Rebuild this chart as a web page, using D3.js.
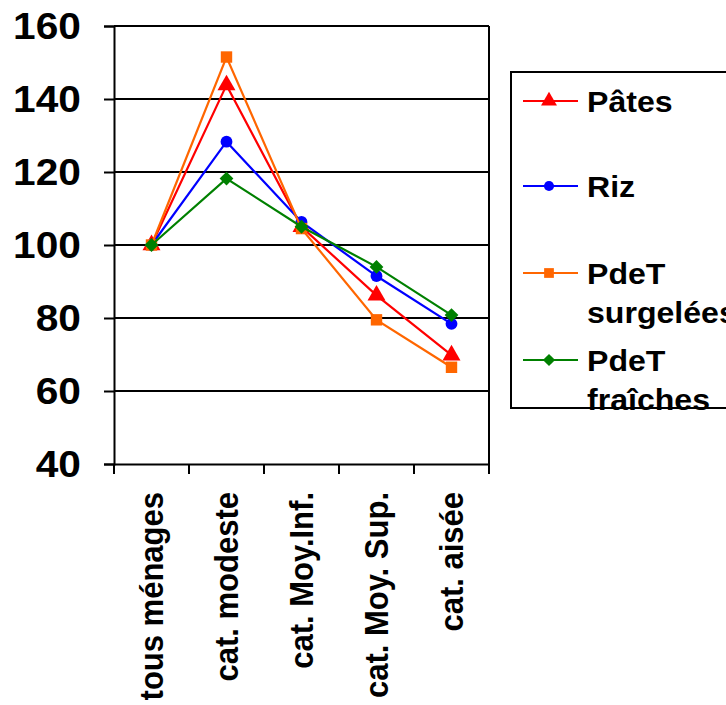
<!DOCTYPE html>
<html><head><meta charset="utf-8">
<script src="https://cdn.jsdelivr.net/npm/d3@7"></script>
<style>body{margin:0;background:#fff}svg{display:block}text{font-family:"Liberation Sans",Arial,sans-serif;font-weight:bold;fill:#000}</style>
</head><body>
<script>
const categories = ["tous ménages","cat. modeste","cat. Moy.Inf.","cat. Moy. Sup.","cat. aisée"];
const seriesNames = ["Pâtes","Riz","PdeT surgelées","PdeT fraîches"];
const pates = [100,143.8,105,86.2,69.8];
const riz = [100,128.3,106.3,91.5,78.4];
const surgelees = [100,151.5,104.5,79.5,66.5];
const fraiches = [100,118.2,105,94,80.8];
const yTicks = [40,60,80,100,120,140,160];
const colors = ["#FF0000","#0000FF","#FF6600","#008000"];
const legendLines = [["Pâtes"],["Riz"],["PdeT","surgelées"],["PdeT","fraîches"]];
const seriesData = [pates, riz, surgelees, fraiches];

(function(){
const W=726,H=705;
const svg=d3.select("body").append("svg").attr("width",W).attr("height",H);
const pl=114,pr=489,pt=26,pb=464;
const x=d3.scaleBand().domain(categories).range([pl,pr]);
const y=d3.scaleLinear().domain([40,160]).range([pb,pt]);
const symbols=[d3.symbolTriangle,d3.symbolCircle,d3.symbolSquare,d3.symbolSquare];
const rot=[0,0,0,45];

svg.append("g").selectAll("line").data(yTicks.filter(v=>v>40)).join("line")
 .attr("x1",pl).attr("x2",pr).attr("y1",d=>y(d)).attr("y2",d=>y(d))
 .attr("stroke","#000").attr("stroke-width",2);
svg.append("line").attr("x1",pr).attr("x2",pr).attr("y1",pt).attr("y2",pb).attr("stroke","#000").attr("stroke-width",2);

const ya=svg.append("g").attr("transform",`translate(${pl},0)`)
 .call(d3.axisLeft(y).tickValues(yTicks).tickSize(10).tickPadding(24).tickFormat(d3.format("d")));
ya.select(".domain").attr("stroke","#000").attr("stroke-width",2);
ya.selectAll(".tick line").attr("stroke","#000").attr("stroke-width",2);
ya.selectAll(".tick text").attr("font-size",36).attr("font-family","Liberation Sans, Arial, sans-serif").attr("font-weight","bold").attr("fill","#000").attr("dy","0.36em")
 .attr("x",0).attr("transform","translate(-33,0) scale(1.13,1)");

const xa=svg.append("g").attr("transform",`translate(0,${pb})`)
 .call(d3.axisBottom(x).tickSize(0).tickFormat(""));
xa.select(".domain").attr("stroke","#000").attr("stroke-width",2);
const xEdges=categories.map(c=>x(c)).concat([pr]);
xa.selectAll(".edge").data(xEdges).join("line").attr("class","edge")
 .attr("x1",d=>d).attr("x2",d=>d).attr("y1",0).attr("y2",10).attr("stroke","#000").attr("stroke-width",2);
xa.selectAll(".lbl").data(categories).join("text").attr("class","lbl")
 .attr("transform",d=>`translate(${x(d)+x.bandwidth()/2},28) rotate(-90) scale(1,1.06)`)
 .attr("text-anchor","end").attr("dy","0.35em").attr("font-size",31).text(d=>d);

const line=d3.line().x((d,i)=>x(categories[i])+x.bandwidth()/2).y(d=>y(d));
seriesData.forEach((vals,si)=>{
  const g=svg.append("g");
  g.append("path").attr("d",line(vals)).attr("fill","none").attr("stroke",colors[si]).attr("stroke-width",2.2);
  const sz=[140,110,130,95][si];
  g.selectAll("path.m").data(vals).join("path").attr("class","m")
   .attr("transform",(d,i)=>`translate(${x(categories[i])+x.bandwidth()/2},${y(d)}) rotate(${rot[si]})`)
   .attr("d",d3.symbol().type(symbols[si]).size(sz)).attr("fill",colors[si]);
});

svg.append("rect").attr("x",511).attr("y",72).attr("width",240).attr("height",336)
 .attr("fill","none").attr("stroke","#000").attr("stroke-width",2);
const legY=[101,186,273,360];
legendLines.forEach((ls,i)=>{
  const g=svg.append("g");
  g.append("line").attr("x1",523).attr("x2",578).attr("y1",legY[i]).attr("y2",legY[i]).attr("stroke",colors[i]).attr("stroke-width",2);
  g.append("path").attr("transform",`translate(549,${legY[i]}) rotate(${rot[i]})`).attr("d",d3.symbol().type(symbols[i]).size([110,80,95,75][i])).attr("fill",colors[i]);
  ls.forEach((t,j)=>{
    g.append("text").attr("x",0).attr("transform",`translate(587,${legY[i]+j*39}) scale(1.07,1)`).attr("dy","0.36em").attr("font-size",30).text(t);
  });
});
})();
</script>
</body></html>
